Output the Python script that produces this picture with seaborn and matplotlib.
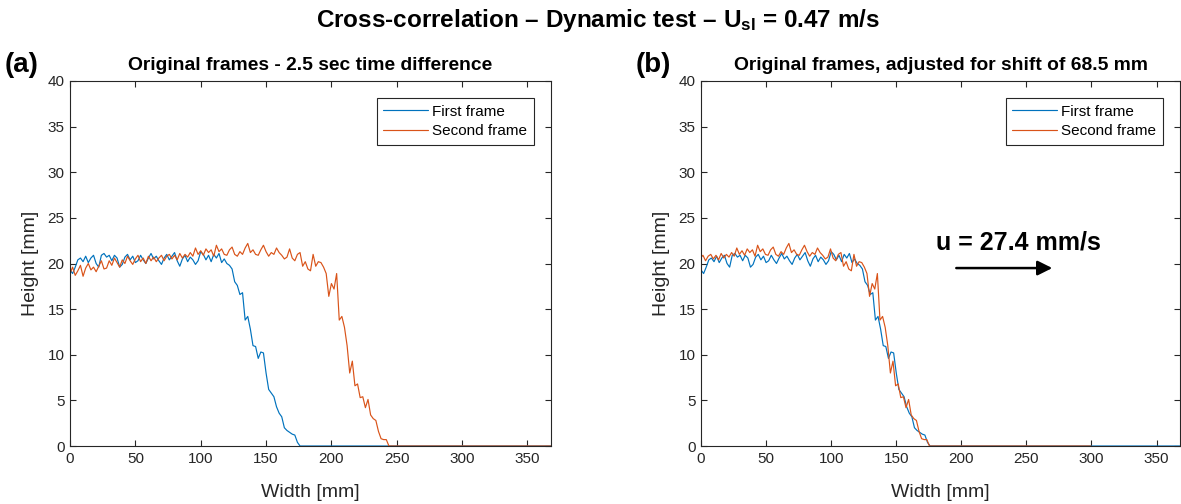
import numpy as np
import pandas as pd
import matplotlib
matplotlib.use("Agg")
import matplotlib.pyplot as plt
import seaborn as sns

# ---------------- data ----------------
# First frame (blue): height [mm] sampled every 2 mm of width, 0..176 mm, then zero to the end
first_width = list(range(0, 178, 2)) + [368]
first_height = [
    19.3, 18.9, 19.6, 20.4, 20.6, 20.2, 20.8, 20.1, 20.6, 20.9,
    20.0, 19.6, 20.9, 21.1, 20.7, 20.9, 20.3, 20.9, 20.6, 19.6,
    19.9, 20.7, 21.0, 20.4, 20.8, 20.1, 20.3, 20.9, 20.4, 20.0,
    20.6, 21.1, 20.5, 20.8, 20.3, 19.9, 20.6, 21.0, 20.4, 20.8,
    21.2, 20.3, 19.7, 20.5, 20.9, 20.2, 20.7, 20.4, 19.9, 20.3,
    21.3, 21.0, 20.4, 20.9, 20.2, 21.0, 20.6, 21.1, 20.1, 20.5,
    20.0, 19.8, 19.4, 18.0, 17.6, 16.6, 16.8, 13.8, 14.2, 12.8,
    11.0, 10.9, 9.6, 10.3, 10.2, 8.0, 6.2, 5.8, 5.4, 4.3,
    3.6, 3.2, 2.0, 1.7, 1.5, 1.3, 1.2, 0.4, 0.0,
    0.0,
]

# Second frame (orange): height [mm] sampled every 2 mm, 0..244 mm, then zero to the end
second_width = list(range(0, 246, 2)) + [368]
second_height = [
    18.9, 19.6, 18.7, 19.2, 19.8, 18.6, 19.5, 20.0, 19.3, 19.6,
    19.1, 19.7, 20.3, 19.4, 19.5, 20.3, 19.8, 20.6, 20.1, 19.6,
    20.4, 20.0, 20.8, 20.3, 19.9, 20.5, 20.9, 20.2, 20.6, 20.0,
    20.8, 20.3, 20.7, 20.2, 20.6, 20.9, 20.3, 20.8, 21.0, 20.5,
    20.9, 20.4, 21.1, 20.6, 21.0, 20.7, 21.2, 20.8, 21.7, 21.0,
    21.4, 20.9, 21.6, 21.2, 21.5, 20.8, 22.0, 21.3, 21.6, 21.0,
    20.9, 21.5, 21.8, 21.0, 20.8, 21.3, 21.0, 21.7, 22.2, 21.2,
    21.5, 21.0, 20.9, 21.5, 22.0, 21.3, 20.8, 21.2, 21.0, 21.7,
    21.2, 20.9, 20.5, 20.7, 21.6, 20.6, 20.3, 21.0, 21.2, 19.7,
    20.2, 19.4, 19.2, 21.0, 19.7, 20.2, 20.1, 19.6, 18.9, 16.4,
    17.8, 17.2, 18.9, 13.8, 14.2, 13.0, 11.0, 8.0, 9.3, 6.6,
    6.8, 5.3, 5.4, 4.2, 5.1, 3.4, 3.0, 2.8, 1.6, 0.8,
    0.7, 0.7, 0.0,
    0.0,
]

shift_mm = 68.5
speed_text = "u = 27.4 mm/s"

suptitle = "Cross-correlation \u2013 Dynamic test \u2013 U$_{\\mathbf{sl}}$ = 0.47 m/s"
titles = ["Original frames - 2.5 sec time difference",
          "Original frames, adjusted for shift of 68.5 mm"]
panel_tags = ["(a)", "(b)"]
legend_labels = ["First frame", "Second frame"]
x_ticks = [0, 50, 100, 150, 200, 250, 300, 350]
y_ticks = [0, 5, 10, 15, 20, 25, 30, 35, 40]

# ---------------- style ----------------
sns.set_theme(style="white")
plt.rcParams["font.family"] = ["Liberation Sans", "DejaVu Sans"]
plt.rcParams["mathtext.fontset"] = "custom"
plt.rcParams["mathtext.rm"] = "Liberation Sans"
plt.rcParams["mathtext.bf"] = "Liberation Sans:bold"
plt.rcParams["mathtext.it"] = "Liberation Sans:italic"
plt.rcParams["text.color"] = "black"

BLUE = "#0072BD"
ORANGE = "#D95319"
AXC = "#262626"

W, H = 1181, 504
fig = plt.figure(figsize=(W / 100, H / 100), dpi=100)

ax_a = fig.add_axes([70 / W, 1 - 446 / H, 481 / W, 365 / H])
ax_b = fig.add_axes([701 / W, 1 - 446 / H, 479 / W, 365 / H])

df_first = pd.DataFrame({"w": first_width, "h": first_height})
df_second = pd.DataFrame({"w": second_width, "h": second_height})
df_second_shift = df_second.assign(w=df_second["w"] - shift_mm)

for ax, sec, title, tag in [(ax_a, df_second, titles[0], panel_tags[0]),
                            (ax_b, df_second_shift, titles[1], panel_tags[1])]:
    sns.lineplot(data=df_first, x="w", y="h", ax=ax, color=BLUE, linewidth=0.85,
                 label=legend_labels[0], estimator=None, sort=False)
    sns.lineplot(data=sec, x="w", y="h", ax=ax, color=ORANGE, linewidth=0.85,
                 label=legend_labels[1], estimator=None, sort=False)
    ax.set_xlim(0, 368)
    ax.set_ylim(0, 40)
    ax.set_xticks(x_ticks)
    ax.set_yticks(y_ticks)
    ax.set_xlabel("Width [mm]", fontsize=14, color=AXC, labelpad=13)
    ax.set_ylabel("Height [mm]", fontsize=14, color=AXC, labelpad=6)
    ax.tick_params(direction="in", length=4, width=0.8, colors=AXC, labelsize=11,
                   top=True, right=True, bottom=True, left=True, pad=4)
    for s in ax.spines.values():
        s.set_visible(True)
        s.set_color(AXC)
        s.set_linewidth(0.8)
    ax.set_title(title, fontsize=13.9, fontweight="bold", color="black", pad=8)
    leg = ax.legend(loc="upper right", fontsize=11, frameon=True, fancybox=False,
                    framealpha=1, edgecolor=AXC, handlelength=2.9, handletextpad=0.3,
                    borderpad=0.45, labelspacing=0.35, borderaxespad=1.1)
    leg.get_frame().set_linewidth(0.8)

fig.text(5 / W, 1 - 65 / H, panel_tags[0], fontsize=20, fontweight="bold", va="center", ha="left")
fig.text(636 / W, 1 - 65 / H, panel_tags[1], fontsize=20, fontweight="bold", va="center", ha="left")
fig.text(598 / W, 1 - 20 / H, suptitle, fontsize=17.5, fontweight="bold", va="center", ha="center")

ax_b.text(243.5, 22.3, speed_text, fontsize=18, fontweight="bold", ha="center", va="center")
ax_b.annotate("", xy=(272, 19.5), xytext=(194, 19.5),
              arrowprops=dict(arrowstyle="-|>", color="black", lw=1.8, mutation_scale=22))

fig.savefig("out.png", dpi=100)
